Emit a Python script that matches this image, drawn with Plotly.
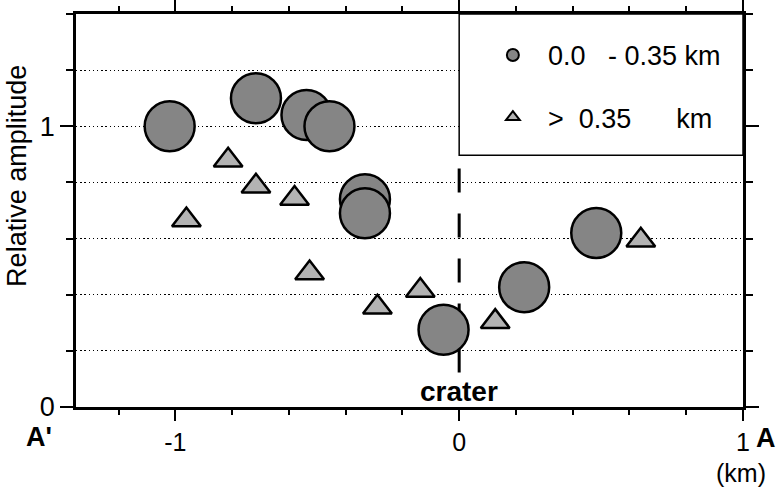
import plotly.graph_objects as go

# ---- data ----
near_x = [-1.02, -0.716, -0.538, -0.457, -0.332, -0.332, -0.055, 0.229, 0.483]
near_y = [1.00, 1.10, 1.04, 1.00, 0.74, 0.69, 0.275, 0.427, 0.62]

far_x = [-0.961, -0.814, -0.716, -0.58, -0.527, -0.288, -0.137, 0.127, 0.64]
far_y = [0.666, 0.879, 0.786, 0.743, 0.477, 0.355, 0.415, 0.304, 0.594]

near_label = "\u00a0\u00a00.0\u00a0\u00a0\u00a0- 0.35 km"
far_label = "\u00a0\u00a0>\u00a0 0.35\u00a0\u00a0\u00a0\u00a0\u00a0 km"

x_ticks = [-1, 0, 1]
x_ticktext = ["-1", "0", "1"]
y_ticks = [0, 1]
y_ticktext = ["0", "1"]

FONT = "Liberation Sans, Arial, Helvetica, sans-serif"

fig = go.Figure()
fig.add_trace(go.Scatter(
    x=far_x, y=far_y, mode="markers", name=far_label, legendgroup="far", legendrank=2,
    marker=dict(symbol="triangle-up", size=25, color="#b3b3b3",
                line=dict(color="black", width=2.5)),
))
fig.add_trace(go.Scatter(
    x=near_x, y=near_y, mode="markers", name=near_label, legendgroup="near", legendrank=1,
    marker=dict(symbol="circle", size=50, color="#858585",
                line=dict(color="black", width=2.5)),
))

fig.update_layout(
    width=778, height=489,
    margin=dict(l=76, r=35, t=14, b=82, autoexpand=False),
    plot_bgcolor="white", paper_bgcolor="white",
    font=dict(family=FONT, size=27, color="black"),
    showlegend=True,
    legend=dict(x=0.625, y=0.957, xanchor="left", yanchor="top",
                bgcolor="rgba(0,0,0,0)", borderwidth=0,
                itemsizing="constant", tracegroupgap=24,
                font=dict(family=FONT, size=27, color="black")),
    xaxis=dict(range=[-1.35, 1.0], tickmode="array", tickvals=x_ticks, ticktext=x_ticktext,
               ticks="outside", ticklen=11, tickwidth=2, tickcolor="black",
               showline=True, linewidth=2.5, linecolor="black", mirror="allticks",
               showgrid=False, zeroline=False, ticklabelstandoff=0, automargin=False,
               tickfont=dict(family=FONT, size=25),
               minor=dict(tick0=0, dtick=0.2, ticks="outside", ticklen=5, tickwidth=1.5,
                          tickcolor="black", showgrid=False)),
    yaxis=dict(range=[0, 1.4], tickmode="array", tickvals=y_ticks, ticktext=y_ticktext,
               ticks="outside", ticklen=13, tickwidth=2, tickcolor="black",
               showline=True, linewidth=2.5, linecolor="black", mirror="allticks",
               showgrid=True, gridcolor="black", gridwidth=1.4, griddash="1.4px,2.8px",
               zeroline=False, ticklabelstandoff=0, automargin=False,
               tickfont=dict(family=FONT, size=27),
               minor=dict(tick0=0, dtick=0.2, ticks="outside", ticklen=7, tickwidth=1.5,
                          tickcolor="black", showgrid=True, gridcolor="black",
                          gridwidth=1.4, griddash="1.4px,2.8px")),
    shapes=[
        dict(type="rect", xref="x", yref="y", x0=0, x1=1.0, y0=0.897, y1=1.4,
             fillcolor="white", line=dict(color="black", width=1.5), layer="between"),
        dict(type="line", xref="x", yref="y", x0=0, x1=0, y0=0.85, y1=0.12,
             line=dict(color="black", width=3, dash="24px,21px"), layer="between"),
    ],
    annotations=[
        dict(text="Relative amplitude", xref="paper", yref="paper", x=-0.0885, y=0.588,
             textangle=-90, showarrow=False, xanchor="center", yanchor="middle",
             font=dict(family=FONT, size=27)),
        dict(text="crater", xref="x", yref="y", x=0, y=0.056, showarrow=False,
             xanchor="center", yanchor="middle",
             font=dict(family=FONT, size=28, weight="bold")),
        dict(text="A'", xref="paper", yref="paper", x=-0.056, y=-0.076, showarrow=False,
             xanchor="center", yanchor="middle",
             font=dict(family=FONT, size=27, weight="bold")),
        dict(text="A", xref="paper", yref="paper", x=1.034, y=-0.080, showarrow=False,
             xanchor="center", yanchor="middle",
             font=dict(family=FONT, size=27, weight="bold")),
        dict(text="(km)", xref="paper", yref="paper", x=0.997, y=-0.168, showarrow=False,
             xanchor="center", yanchor="middle",
             font=dict(family=FONT, size=25)),
    ],
)

fig.write_html("out.html")
